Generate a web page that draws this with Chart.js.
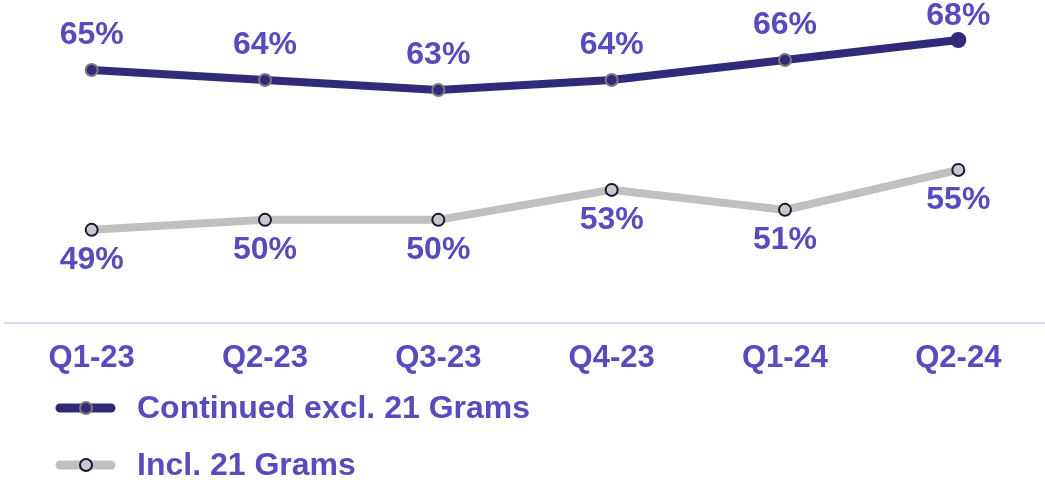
<!DOCTYPE html>
<html>
<head>
<meta charset="utf-8">
<script src="https://cdn.jsdelivr.net/npm/chart.js@4"></script>
<style>
  html, body { margin: 0; padding: 0; background: #fff; }
  #wrap { width: 1045px; height: 483px; position: relative; }
</style>
</head>
<body>
<div id="wrap"><canvas id="margeChart"></canvas></div>
<script>
// quarters and margins (%)
var quarters = ['Q1-23', 'Q2-23', 'Q3-23', 'Q4-23', 'Q1-24', 'Q2-24'];
var continuedExcl = [65, 64, 63, 64, 66, 68];
var incl21Grams = [49, 50, 50, 53, 51, 55];
var seriesNames = ['Continued excl. 21 Grams', 'Incl. 21 Grams'];

var violet = '#574bbd';
var navy = '#31297a';
var gris = '#c0c0c0';
var police = '"Liberation Sans", Arial, sans-serif';

// value labels: above for the first line, below for the second
var etiquettes = {
  id: 'etiquettes',
  afterDatasetsDraw: function(chart) {
    var ctx = chart.ctx;
    ctx.save();
    ctx.font = 'bold 32px ' + police;
    ctx.fillStyle = violet;
    ctx.textAlign = 'center';
    ctx.textBaseline = 'middle';
    chart.data.datasets.forEach(function(ds, i) {
      var meta = chart.getDatasetMeta(i);
      meta.data.forEach(function(pt, j) {
        // keep the top labels inside the canvas
        var y = i === 0 ? Math.max(pt.y - 35, 16) : pt.y + 30;
        ctx.fillText(ds.data[j] + '%', pt.x, y);
      });
    });
    ctx.restore();
  }
};

// legend stacked under the axis, marker = thick line with a dot
var legende = {
  id: 'legende',
  afterDraw: function(chart) {
    var ctx = chart.ctx;
    var rows = [408, 465];
    ctx.save();
    chart.data.datasets.forEach(function(ds, i) {
      var y = rows[i];
      ctx.strokeStyle = ds.borderColor;
      ctx.lineWidth = 9;
      ctx.lineCap = 'round';
      ctx.beginPath();
      ctx.moveTo(60, y);
      ctx.lineTo(111, y);
      ctx.stroke();
      ctx.beginPath();
      ctx.arc(86, y, 6, 0, Math.PI * 2);
      ctx.fillStyle = ds.pointBackgroundColor;
      ctx.fill();
      ctx.lineWidth = 2;
      ctx.strokeStyle = i === 0 ? '#7a7a7a' : '#1a1535';
      ctx.stroke();
      ctx.font = 'bold 32px ' + police;
      ctx.fillStyle = violet;
      ctx.textAlign = 'left';
      ctx.textBaseline = 'middle';
      ctx.fillText(ds.label, 137, y + 1);
    });
    ctx.restore();
  }
};

var ctx = document.getElementById('margeChart').getContext('2d');
new Chart(ctx, {
  type: 'line',
  data: {
    labels: quarters,
    datasets: [{
      label: seriesNames[0],
      data: continuedExcl,
      borderColor: navy,
      borderWidth: 8,
      pointBackgroundColor: navy,
      pointBorderColor: ['#7a7a7a', '#7a7a7a', '#7a7a7a', '#7a7a7a', '#7a7a7a', navy],
      pointBorderWidth: 2,
      pointRadius: [6, 6, 6, 6, 6, 7],
      tension: 0
    }, {
      label: seriesNames[1],
      data: incl21Grams,
      borderColor: gris,
      borderWidth: 8,
      pointBackgroundColor: '#c8c8c8',
      pointBorderColor: '#1a1535',
      pointBorderWidth: 2,
      pointRadius: 6,
      tension: 0
    }]
  },
  options: {
    responsive: true,
    maintainAspectRatio: false,
    animation: false,
    layout: { autoPadding: false, padding: { left: 5, right: 0, top: 0, bottom: 89 } },
    plugins: {
      legend: { display: false },
      tooltip: { enabled: false }
    },
    scales: {
      x: {
        offset: true,
        grid: { display: false, drawTicks: false },
        border: { display: true, color: '#dcd8f2', width: 2 },
        ticks: {
          color: violet,
          font: { family: police, size: 31, weight: 'bold' },
          padding: 17,
          maxRotation: 0,
          autoSkip: false
        }
      },
      y: {
        display: false,
        min: 39.7,
        max: 72
      }
    }
  },
  plugins: [etiquettes, legende]
});
</script>
</body>
</html>
